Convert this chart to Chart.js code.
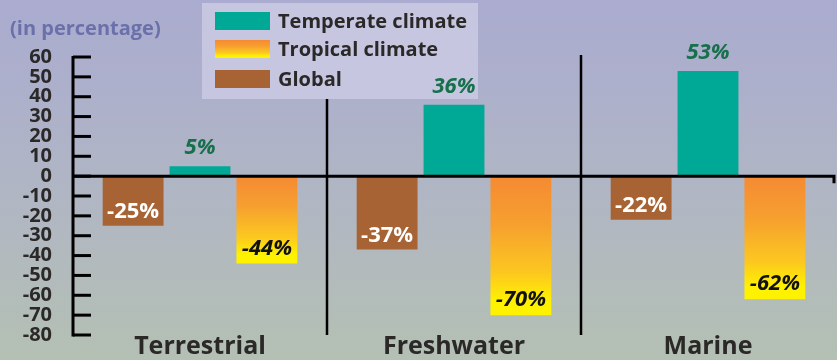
<!DOCTYPE html>
<html>
<head>
<meta charset="utf-8">
<script src="https://cdn.jsdelivr.net/npm/chart.js@4.4.1/dist/chart.umd.min.js"></script>
<style>
  html, body { margin: 0; padding: 0; }
  #wrap { width: 837px; height: 360px; }
</style>
</head>
<body>
<div id="wrap"><canvas id="lossChart" width="837" height="360"></canvas></div>
<script>
// categories and series (percent change)
var categories = ['Terrestrial', 'Freshwater', 'Marine'];
var globalValues = [-25, -37, -22];
var temperateValues = [5, 36, 53];
var tropicalValues = [-44, -70, -62];
var yTicks = [60, 50, 40, 30, 20, 10, 0, -10, -20, -30, -40, -50, -60, -70, -80];

var BROWN = '#a76334';
var TEAL = '#00a896';
var DARK = '#2b2828';
var FONT = '"Open Sans"';

Chart.defaults.font.family = FONT;

function tropicalGradient(c, y0, y1) {
    var g = c.createLinearGradient(0, y0, 0, y1);
    g.addColorStop(0, '#f58a33');
    g.addColorStop(0.35, '#f6a02f');
    g.addColorStop(0.7, '#fcc81f');
    g.addColorStop(0.9, '#fff200');
    g.addColorStop(1, '#fff200');
    return g;
}

function drawLegend(c) {
    c.save();
    c.fillStyle = '#c6c6e0';
    c.fillRect(202, 3, 276, 96);
    var rows = [
        { label: 'Temperate climate', top: 12 },
        { label: 'Tropical climate', top: 40 },
        { label: 'Global', top: 70 }
    ];
    rows.forEach(function(r) {
        if (r.label === 'Temperate climate') c.fillStyle = TEAL;
        else if (r.label === 'Global') c.fillStyle = BROWN;
        else c.fillStyle = tropicalGradient(c, r.top, r.top + 18);
        c.fillRect(215, r.top, 55, 18);
        c.fillStyle = DARK;
        c.font = 'bold 20px ' + FONT;
        c.textAlign = 'left';
        c.fillText(r.label, 278, r.top + 16);
    });
    c.restore();
}

// background, axis lines, dividers, legend and value labels
var decor = {
    id: 'decor',
    beforeDraw: function(chart) {
        var c = chart.ctx;
        var g = c.createLinearGradient(0, 0, 0, chart.height);
        g.addColorStop(0, '#aaabd0');
        g.addColorStop(0.5, '#b0b5c5');
        g.addColorStop(1, '#b4c0b3');
        c.save();
        c.fillStyle = g;
        c.fillRect(0, 0, chart.width, chart.height);
        // unit note
        c.font = 'bold 20px ' + FONT;
        c.fillStyle = '#6a70aa';
        c.textAlign = 'left';
        c.fillText('(in percentage)', 10, 35);
        c.restore();
    },
    afterDatasetsDraw: function(chart) {
        var c = chart.ctx;
        var x = chart.scales.x, y = chart.scales.y;
        var area = chart.chartArea;
        var y0 = y.getPixelForValue(0);
        c.save();
        c.strokeStyle = '#000';
        // category dividers
        c.lineWidth = 2.5;
        for (var i = 0; i < categories.length - 1; i++) {
            var xd = (x.getPixelForValue(i) + x.getPixelForValue(i + 1)) / 2;
            c.beginPath();
            c.moveTo(xd, 55);
            c.lineTo(xd, area.bottom);
            c.stroke();
        }
        // y axis with inside ticks
        c.lineWidth = 3;
        c.beginPath();
        c.moveTo(area.left, y.getPixelForValue(60) - 1);
        c.lineTo(area.left, y.getPixelForValue(-80) + 1.5);
        c.stroke();
        yTicks.forEach(function(v) {
            var py = y.getPixelForValue(v);
            c.beginPath();
            c.moveTo(area.left, py);
            c.lineTo(area.left + 18, py);
            c.stroke();
        });
        // zero line
        c.beginPath();
        c.moveTo(area.left, y0);
        c.lineTo(area.right - 1, y0);
        c.lineTo(area.right - 1, y0 + 7);
        c.stroke();
        c.restore();

        drawLegend(c);

        // value labels
        c.save();
        c.textAlign = 'center';
        c.textBaseline = 'alphabetic';
        chart.data.datasets.forEach(function(ds, di) {
            var meta = chart.getDatasetMeta(di);
            meta.data.forEach(function(bar, j) {
                var txt = ds.data[j] + '%';
                if (ds.label === 'Global') {
                    c.font = 'bold 22px ' + FONT;
                    c.fillStyle = '#ffffff';
                    c.fillText(txt, bar.x, bar.y - 8);
                } else if (ds.label === 'Tropical climate') {
                    c.font = 'italic bold 22px ' + FONT;
                    c.fillStyle = '#111';
                    c.fillText(txt, bar.x, bar.y - 9);
                } else {
                    c.font = 'italic bold 22px ' + FONT;
                    c.fillStyle = '#17704b';
                    c.fillText(txt, bar.x, bar.y - 12);
                }
            });
        });
        c.restore();
    }
};

var ctx = document.getElementById('lossChart').getContext('2d');
var lossChart = new Chart(ctx, {
    type: 'bar',
    data: {
        labels: categories,
        datasets: [{
            label: 'Global',
            data: globalValues,
            backgroundColor: BROWN
        }, {
            label: 'Temperate climate',
            data: temperateValues,
            backgroundColor: TEAL
        }, {
            label: 'Tropical climate',
            data: tropicalValues,
            backgroundColor: function(context) {
                var chart = context.chart;
                if (!chart.chartArea) return '#f58a33';
                var y = chart.scales.y;
                return tropicalGradient(chart.ctx, y.getPixelForValue(0), y.getPixelForValue(context.raw));
            }
        }]
    },
    options: {
        responsive: false,
        animation: false,
        devicePixelRatio: 1,
        categoryPercentage: 0.79,
        barPercentage: 0.91,
        layout: { padding: { top: 57, right: 2, left: 0, bottom: 0 } },
        plugins: {
            legend: { display: false },
            tooltip: { enabled: false }
        },
        scales: {
            x: {
                grid: { display: false },
                border: { display: false },
                ticks: {
                    color: DARK,
                    font: { size: 25, weight: 'bold' },
                    padding: -11,
                    maxRotation: 0
                },
                afterFit: function(scale) { scale.height = 21; }
            },
            y: {
                min: -80,
                max: 60,
                grid: { display: false },
                border: { display: false },
                ticks: {
                    stepSize: 10,
                    autoSkip: false,
                    color: DARK,
                    padding: 13,
                    font: { size: 20, weight: 'bold' }
                },
                afterFit: function(scale) { scale.width = 73; }
            }
        }
    },
    plugins: [decor]
});
</script>
</body>
</html>
